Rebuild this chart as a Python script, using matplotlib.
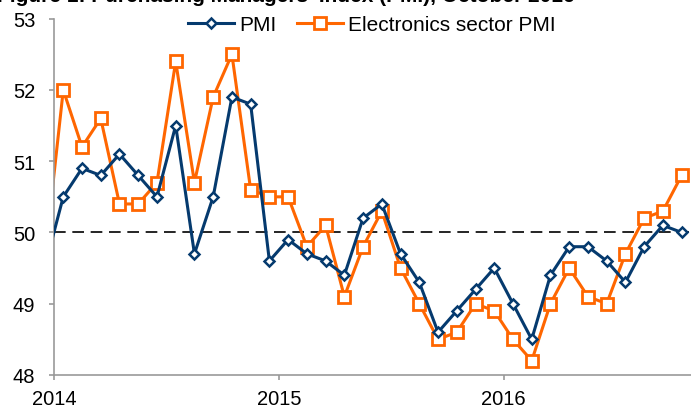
import matplotlib
matplotlib.use("Agg")
import matplotlib.pyplot as plt
import numpy as np

plt.rcParams['font.family'] = ['Liberation Sans', 'DejaVu Sans']

# monthly readings, Dec 2013 (clipped at the left edge) to Oct 2016
months = ["2013-12"] + [f"{y}-{m:02d}" for y in (2014, 2015, 2016) for m in range(1, 13)][:34]
pmi = [49.5,
       50.5, 50.9, 50.8, 51.1, 50.8, 50.5, 51.5, 49.7, 50.5, 51.9, 51.8, 49.6,
       49.9, 49.7, 49.6, 49.4, 50.2, 50.4, 49.7, 49.3, 48.6, 48.9, 49.2, 49.5,
       49.0, 48.5, 49.4, 49.8, 49.8, 49.6, 49.3, 49.8, 50.1, 50.0]
elec_pmi = [49.6,
            52.0, 51.2, 51.6, 50.4, 50.4, 50.7, 52.4, 50.7, 51.9, 52.5, 50.6, 50.5,
            50.5, 49.8, 50.1, 49.1, 49.8, 50.3, 49.5, 49.0, 48.5, 48.6, 49.0, 48.9,
            48.5, 48.2, 49.0, 49.5, 49.1, 49.0, 49.7, 50.2, 50.3, 50.8]
year_labels = ["2014", "2015", "2016"]

# each month sits in the middle of its slot, Jan 2014 slot starts at 0
x = np.arange(len(months)) - 1 + 0.5

fig = plt.figure(figsize=(6.91, 4.10), dpi=100)
ax = fig.add_axes([0.078, 0.083, 0.922, 0.869])

navy = '#053a6e'
orange = '#ff6600'

ax.axhline(50, color='black', lw=1.2, dashes=(7, 4), zorder=1)
ax.plot(x, pmi, color=navy, lw=2.2, marker='D', ms=5.5, mfc='white',
        mec=navy, mew=1.8, label='PMI', zorder=3)
ax.plot(x, elec_pmi, color=orange, lw=2.2, marker='s', ms=9, mfc='white',
        mec=orange, mew=2.0, label='Electronics sector PMI', zorder=2)

ax.set_xlim(0, 34)
ax.set_ylim(48, 53)
ax.set_yticks(range(48, 54))
ax.set_xticks([0, 12, 24])
ax.set_xticklabels(year_labels)

for s in ('top', 'right'):
    ax.spines[s].set_visible(False)
for s in ('left', 'bottom'):
    ax.spines[s].set_color('#999999')
    ax.spines[s].set_linewidth(1.2)
ax.tick_params(axis='both', colors='#999999', labelcolor='black',
               labelsize=14.5, length=3.8, width=1.2, direction='out')
ax.tick_params(axis='y', pad=9.5)
ax.tick_params(axis='x', pad=6.5)

fig.legend(loc='center', bbox_to_anchor=(0.538, 0.937), ncol=2, frameon=False,
           fontsize=15, handlelength=2.2, handletextpad=0.25, columnspacing=1.0)

fig.text(-0.004, 0.995, "Figure 1: Purchasing Managers' Index (PMI), October 2016",
         fontsize=15, fontweight='bold', va='baseline', ha='left')

fig.savefig('out.png', dpi=100)
